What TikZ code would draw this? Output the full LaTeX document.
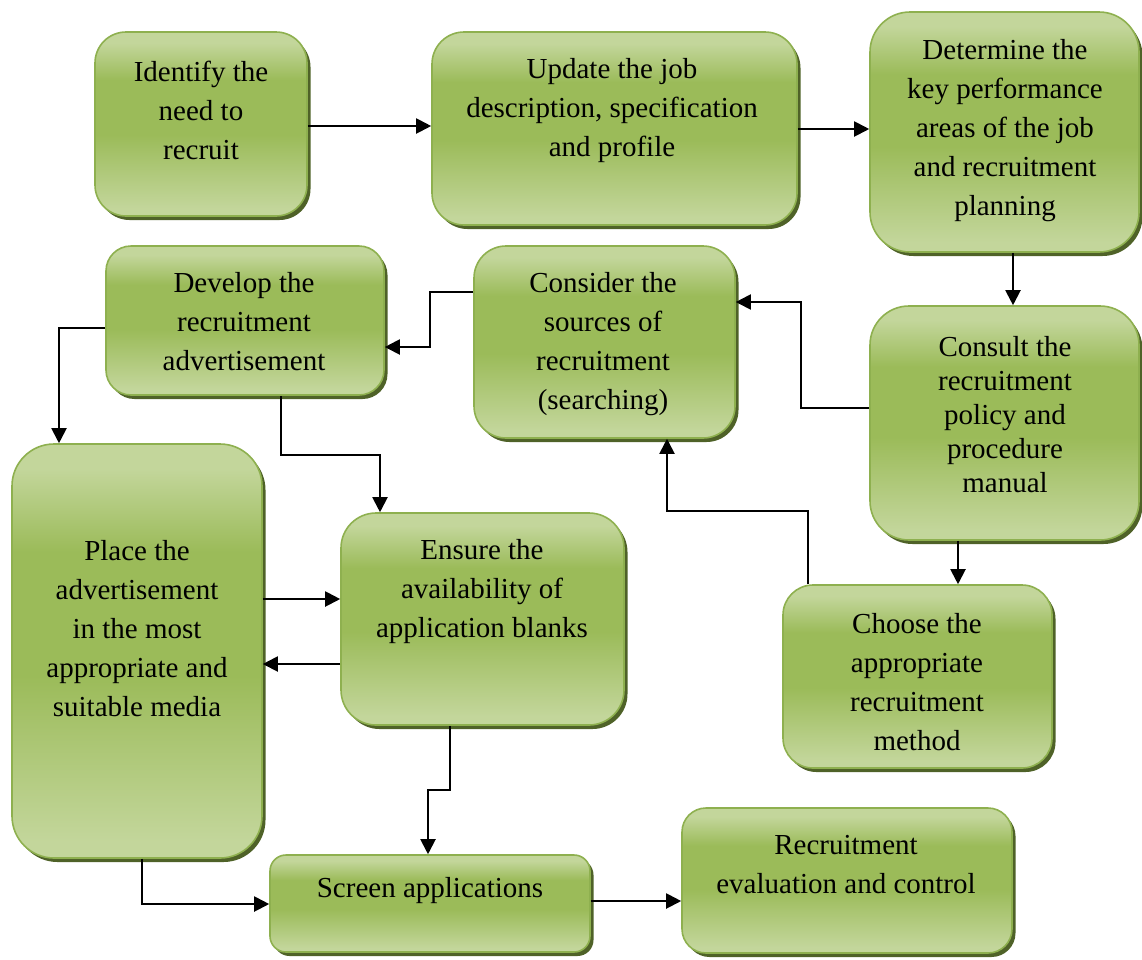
\documentclass[tikz,border=0pt]{standalone}
\usepackage{fontspec}
\setmainfont{Liberation Serif}
\usetikzlibrary{arrows.meta,shadows}
\definecolor{gLight}{HTML}{C3D69B}
\definecolor{gMid}{HTML}{9BBB59}
\definecolor{gEdge}{HTML}{8EB04F}
\definecolor{gShadow}{HTML}{4F6228}
\pgfdeclareverticalshading{greenbar}{100bp}{%
  color(0bp)=(gLight); color(27bp)=(gLight); color(47bp)=(gMid);
  color(62bp)=(gMid); color(72bp)=(gLight); color(100bp)=(gLight)}
\tikzset{
  gbox/.style={rectangle, draw=gEdge, line width=1.6pt, shading=greenbar,
    inner sep=0pt,
    drop shadow={shadow xshift=3.5pt, shadow yshift=-4pt, fill=gShadow, opacity=1}},
  btxt/.style={align=center, font=\fontsize{29}{39}\selectfont, inner sep=0pt},
  conn/.style={line width=2pt, -{Triangle[length=15pt,width=15pt]}}
}
\begin{document}
\begin{tikzpicture}[x=1pt,y=-1pt]
\useasboundingbox (0,0) rectangle (1142,959);
% boxes
\node[gbox, rounded corners=31pt, minimum width=212pt, minimum height=184pt] (id) at (201,124) {};
\node[gbox, rounded corners=32pt, minimum width=365pt, minimum height=193pt] (up) at (614.5,128.5) {};
\node[gbox, rounded corners=40pt, minimum width=269pt, minimum height=240pt] (det) at (1004.5,132) {};
\node[gbox, rounded corners=39pt, minimum width=269pt, minimum height=234pt] (con) at (1004.5,423) {};
\node[gbox, rounded corners=32pt, minimum width=261pt, minimum height=192pt] (cons) at (604.5,342) {};
\node[gbox, rounded corners=25pt, minimum width=278pt, minimum height=149pt] (dev) at (245,320.5) {};
\node[gbox, rounded corners=42pt, minimum width=250pt, minimum height=414pt] (pl) at (137,651) {};
\node[gbox, rounded corners=35pt, minimum width=283pt, minimum height=212pt] (ens) at (482.5,619) {};
\node[gbox, rounded corners=30pt, minimum width=269pt, minimum height=183pt] (ch) at (917.5,676.5) {};
\node[gbox, rounded corners=16pt, minimum width=320pt, minimum height=97pt] (scr) at (430,903.5) {};
\node[gbox, rounded corners=24pt, minimum width=330pt, minimum height=145pt] (ev) at (847,880.5) {};
% texts
\node[btxt] (tid) at (201,110) {Identify the\\need to\\recruit};
\node[btxt] (tup) at (612,111) {Update the job\\description, specification\\and profile};
\node[btxt] (tdet) at (1005,131) {Determine the\\key performance\\areas of the job\\and recruitment\\planning};
\node[btxt, font=\fontsize{29}{34}\selectfont] (tcon) at (1005,415) {Consult the\\recruitment\\policy and\\procedure\\manual};
\node[btxt] (tcons) at (603,344) {Consider the\\sources of\\recruitment\\(searching)};
\node[btxt] (tdev) at (244,322) {Develop the\\recruitment\\advertisement};
\node[btxt] (tpl) at (137,629) {Place the\\advertisement\\in the most\\appropriate and\\suitable media};
\node[btxt] (tens) at (482,592) {Ensure the\\availability of\\application blanks};
\node[btxt] (tch) at (917,682) {Choose the\\appropriate\\recruitment\\method};
\node[btxt] (tscr) at (430,891) {Screen applications};
\node[btxt] (tev) at (846,865) {Recruitment\\evaluation and control};
% connectors
\draw[conn] (id.east |- 0,126) -- (up.west |- 0,126);
\draw[conn] (up.east |- 0,129) -- (det.west |- 0,129);
\draw[conn] (det.south -| 1013,0) -- (con.north -| 1013,0);
\draw[conn] (con.west |- 0,408) -| (801,302) -- (cons.east |- 0,302);
\draw[conn] (cons.west |- 0,292) -| (430,347) -- (dev.east |- 0,347);
\draw[conn] (dev.west |- 0,328) -| (pl.north -| 59,0);
\draw[conn] (dev.south -| 281,0) |- (380,455) -- (ens.north -| 380,0);
\draw[conn] (pl.east |- 0,599) -- (ens.west |- 0,599);
\draw[conn] (ens.west |- 0,664) -- (pl.east |- 0,664);
\draw[conn] (ch.north -| 808,0) |- (667,511) -- (cons.south -| 667,0);
\draw[conn] (con.south -| 958,0) -- (ch.north -| 958,0);
\draw[conn] (ens.south -| 450,0) |- (428,790) -- (scr.north -| 428,0);
\draw[conn] (pl.south -| 142,0) |- (scr.west |- 0,904);
\draw[conn] (scr.east |- 0,901) -- (ev.west |- 0,901);
\end{tikzpicture}
\end{document}
